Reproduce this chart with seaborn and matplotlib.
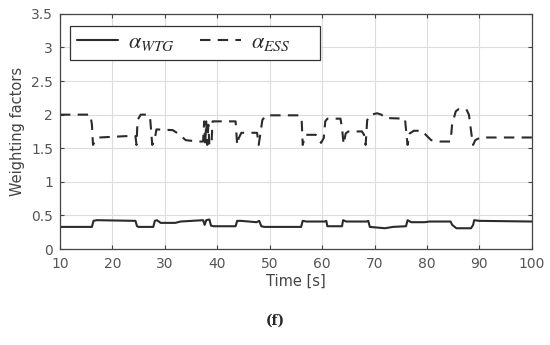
import pandas as pd
import seaborn as sns
import matplotlib.pyplot as plt

# breakpoints
t_ess = [10, 15.8, 16.1, 16.3, 16.8, 17.5, 22.5, 24.4, 24.6, 24.8, 25.4, 26.8, 27.2, 27.6, 28.0, 28.4,
         31.5, 32.5, 34.0, 36.5, 37.3, 37.5, 37.7, 37.9, 38.1, 38.3, 38.5, 38.9, 39.1, 43.5, 43.8, 44.1,
         44.6, 47.6, 47.9, 48.2, 48.6, 49.3, 55.7, 56.1, 56.3, 56.8, 58.8, 59.8, 60.3, 60.6, 61.0, 63.5,
         63.8, 64.1, 64.5, 65.0, 67.6, 68.0, 68.3, 68.6, 69.3, 70.5, 71.3, 72.0, 75.8, 76.1, 76.3, 76.7,
         77.5, 79.0, 80.8, 82.5, 84.5, 84.8, 85.5, 86.0, 87.5, 88.0, 88.5, 88.8, 89.2, 90.2, 100]
alpha_ess = [2.00, 2.00, 1.85, 1.55, 1.62, 1.66, 1.68, 1.68, 1.55, 1.92, 2.00, 2.00, 1.95, 1.55, 1.60, 1.78,
             1.77, 1.72, 1.62, 1.60, 1.60, 1.90, 1.55, 1.90, 1.55, 1.85, 1.55, 1.55, 1.90, 1.90, 1.55, 1.65,
             1.73, 1.73, 1.55, 1.70, 1.92, 1.99, 1.99, 1.92, 1.55, 1.70, 1.70, 1.58, 1.65, 1.90, 1.94, 1.94,
             1.80, 1.56, 1.72, 1.75, 1.75, 1.70, 1.55, 1.92, 2.00, 2.02, 2.00, 1.95, 1.94, 1.70, 1.55, 1.72,
             1.76, 1.76, 1.62, 1.60, 1.60, 1.86, 2.05, 2.08, 2.08, 2.00, 1.70, 1.55, 1.62, 1.66, 1.66]

t_wtg = [10, 16.1, 16.4, 17.0, 24.4, 24.7, 25.0, 27.8, 28.1, 28.5, 29.2, 32.0, 33.0, 37.3, 37.6, 37.9,
         38.5, 38.8, 39.3, 43.5, 43.8, 44.5, 47.5, 48.0, 48.4, 49.0, 56.0, 56.3, 57.0, 60.5, 60.8, 61.0,
         63.8, 64.0, 64.6, 68.5, 68.8, 69.1, 72.0, 73.5, 76.0, 76.3, 77.0, 79.5, 80.5, 84.5, 84.8, 85.6,
         88.4, 88.8, 89.0, 90.0, 100]
alpha_wtg = [0.33, 0.33, 0.42, 0.43, 0.42, 0.34, 0.33, 0.33, 0.42, 0.43, 0.39, 0.39, 0.41, 0.43, 0.36, 0.43,
             0.44, 0.35, 0.34, 0.34, 0.42, 0.42, 0.40, 0.42, 0.34, 0.33, 0.33, 0.42, 0.41, 0.41, 0.42, 0.34,
             0.34, 0.43, 0.41, 0.41, 0.42, 0.33, 0.31, 0.33, 0.34, 0.43, 0.40, 0.40, 0.41, 0.41, 0.36, 0.31,
             0.31, 0.36, 0.43, 0.42, 0.41]

sns.set_style("whitegrid", {"grid.color": "#dcdcdc", "axes.edgecolor": "#444444"})
plt.rcParams["mathtext.fontset"] = "stix"

fig = plt.figure(figsize=(5.5, 3.45), dpi=100)
ax = fig.add_axes([0.109, 0.278, 0.858, 0.682])

df_wtg = pd.DataFrame({"t": t_wtg, "a": alpha_wtg})
df_ess = pd.DataFrame({"t": t_ess, "a": alpha_ess})
sns.lineplot(data=df_wtg, x="t", y="a", ax=ax, color="#2b2b2b", lw=1.5, label=r"$\alpha_{WTG}$")
sns.lineplot(data=df_ess, x="t", y="a", ax=ax, color="#2b2b2b", lw=1.5, dashes=False,
             label=r"$\alpha_{ESS}$" + "    ")
ax.lines[1].set_linestyle((0, (5, 3.5)))

ax.set_xlim(10, 100)
ax.set_ylim(0, 3.5)
ax.set_xticks(range(10, 101, 10))
ax.set_yticks([0, 0.5, 1, 1.5, 2, 2.5, 3, 3.5])
ax.set_yticklabels(["0", "0.5", "1", "1.5", "2", "2.5", "3", "3.5"])
ax.tick_params(direction="in", length=3, labelsize=10, colors="#444444", labelcolor="#555555",
               top=True, right=True, bottom=True, left=True)
ax.tick_params(axis="x", pad=6)
ax.tick_params(axis="y", pad=5)
ax.set_xlabel("Time [s]", fontsize=10.5, color="#444444", labelpad=2)
ax.set_ylabel("Weighting factors", fontsize=10.5, color="#444444", labelpad=4)
for s in ax.spines.values():
    s.set_linewidth(0.9)

leg = ax.legend(loc="upper left", bbox_to_anchor=(0.021, 0.95), ncol=2, fontsize=16,
                handlelength=1.85, columnspacing=1.15, borderaxespad=0, frameon=True,
                fancybox=False, borderpad=0.3, handletextpad=0.45)
leg.get_frame().set_edgecolor("#333333")
leg.get_frame().set_linewidth(0.9)
leg.get_frame().set_alpha(1)
for txt in leg.get_texts():
    txt.set_color("#2b2b2b")

fig.text(0.5, 0.058, "(f)", ha="center", fontsize=10, fontweight="bold", family="serif")

plt.savefig("out.png", dpi=100)
plt.close()
